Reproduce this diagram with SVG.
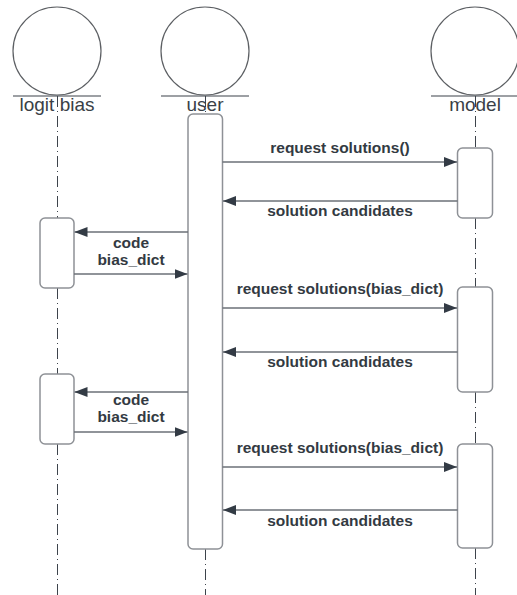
<svg xmlns="http://www.w3.org/2000/svg" width="517" height="595" viewBox="0 0 517 595">
<defs>
<marker id="ah" viewBox="0 0 13 10" refX="13" refY="5" markerWidth="13" markerHeight="10" markerUnits="userSpaceOnUse" orient="auto">
<path d="M0,0 L13,5 L0,10 Z" fill="#333b45"/>
</marker>
<style>
.head{fill:none;stroke:#5c5f63;stroke-width:1.2}
.base{stroke:#3d434b;stroke-width:1.2}
.life{stroke:#3d434b;stroke-width:1;stroke-dasharray:11 4 1 4}
.act{fill:#fff;stroke:#8e9196;stroke-width:1.5}
.name{font-family:"Liberation Sans",Arial,sans-serif;font-size:19px;fill:#3a3f46;text-anchor:middle}
.msg{stroke:#6b7077;stroke-width:1.5;fill:none}
.lbl{font-family:"Liberation Sans",Arial,sans-serif;font-size:15.5px;font-weight:bold;fill:#333a42;text-anchor:middle}
</style>
</defs>
<rect width="517" height="595" fill="#fff"/>
<g id="lifelines">
<line class="life" x1="57.5" y1="96" x2="57.5" y2="218"/>
<line class="life" x1="57.5" y1="288" x2="57.5" y2="374"/>
<line class="life" x1="57.5" y1="444" x2="57.5" y2="595"/>
<line class="life" x1="205.5" y1="96" x2="205.5" y2="114"/>
<line class="life" x1="205.5" y1="549" x2="205.5" y2="595"/>
<line class="life" x1="475.5" y1="96" x2="475.5" y2="148"/>
<line class="life" x1="475.5" y1="218" x2="475.5" y2="287"/>
<line class="life" x1="475.5" y1="392" x2="475.5" y2="444"/>
<line class="life" x1="475.5" y1="548" x2="475.5" y2="595"/>
</g>
<g id="logit-bias">
<circle class="head" cx="57" cy="51" r="44"/>
<line class="base" x1="13" y1="96" x2="101" y2="96"/>
<text class="name" x="57" y="111">logit bias</text>
</g>
<g id="user">
<circle class="head" cx="205" cy="51" r="44"/>
<line class="base" x1="161" y1="96" x2="249" y2="96"/>
<text class="name" x="205" y="111">user</text>
</g>
<g id="model">
<circle class="head" cx="475" cy="51" r="44"/>
<line class="base" x1="431" y1="96" x2="519" y2="96"/>
<text class="name" x="475" y="111">model</text>
</g>
<g id="user-activation">
<rect class="act" x="188" y="114" width="34.5" height="435" rx="5"/>
</g>
<g id="model-activation-1"><rect class="act" x="457.5" y="148" width="35" height="70" rx="5"/></g>
<g id="model-activation-2"><rect class="act" x="457.5" y="287" width="35" height="105" rx="5"/></g>
<g id="model-activation-3"><rect class="act" x="457.5" y="444" width="35" height="104" rx="5"/></g>
<g id="logit-activation-1"><rect class="act" x="40" y="218" width="34" height="70" rx="5"/></g>
<g id="logit-activation-2"><rect class="act" x="40" y="374" width="34" height="70" rx="5"/></g>
<g id="connectors">
<line class="msg" x1="222.5" y1="162" x2="457" y2="162" marker-end="url(#ah)"/>
<line class="msg" x1="457.5" y1="201" x2="223" y2="201" marker-end="url(#ah)"/>
<line class="msg" x1="188" y1="232" x2="74.5" y2="232" marker-end="url(#ah)"/>
<line class="msg" x1="74" y1="274" x2="187.5" y2="274" marker-end="url(#ah)"/>
<line class="msg" x1="222.5" y1="308" x2="457" y2="308" marker-end="url(#ah)"/>
<line class="msg" x1="457.5" y1="352" x2="223" y2="352" marker-end="url(#ah)"/>
<line class="msg" x1="188" y1="392" x2="74.5" y2="392" marker-end="url(#ah)"/>
<line class="msg" x1="74" y1="432" x2="187.5" y2="432" marker-end="url(#ah)"/>
<line class="msg" x1="222.5" y1="467" x2="457" y2="467" marker-end="url(#ah)"/>
<line class="msg" x1="457.5" y1="510" x2="223" y2="510" marker-end="url(#ah)"/>
<text class="lbl" x="340" y="153">request solutions()</text>
<text class="lbl" x="340" y="216">solution candidates</text>
<text class="lbl" x="131" y="248">code</text>
<text class="lbl" x="131" y="265">bias_dict</text>
<text class="lbl" x="340" y="294">request solutions(bias_dict)</text>
<text class="lbl" x="340" y="367">solution candidates</text>
<text class="lbl" x="131" y="405">code</text>
<text class="lbl" x="131" y="422">bias_dict</text>
<text class="lbl" x="340" y="453">request solutions(bias_dict)</text>
<text class="lbl" x="340" y="526">solution candidates</text>
</g>
</svg>
